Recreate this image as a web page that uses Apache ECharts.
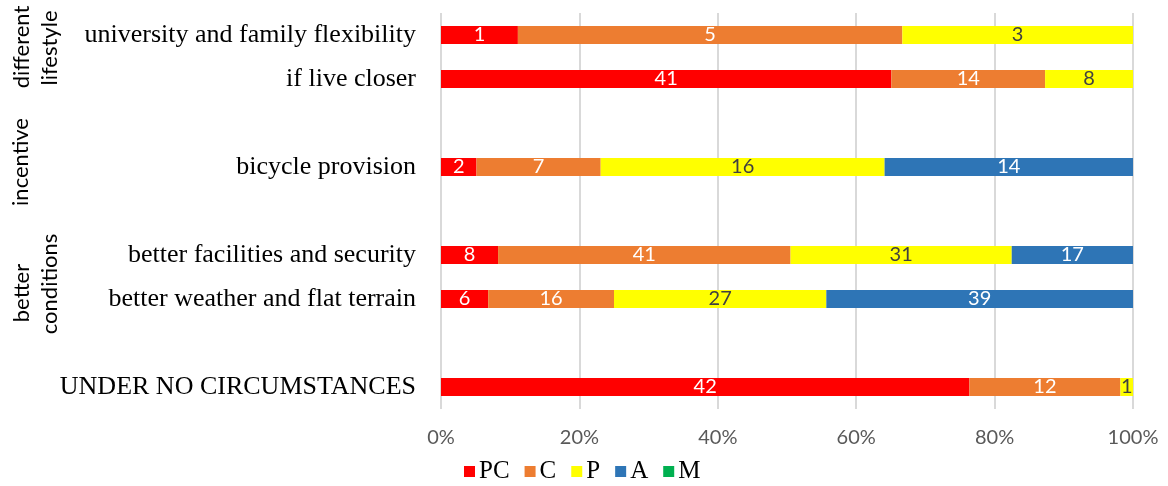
<!DOCTYPE html>
<html>
<head>
<meta charset="utf-8">
<script src="https://cdn.jsdelivr.net/npm/echarts@6/dist/echarts.min.js"></script>
<style>
  html, body { margin: 0; padding: 0; background: #fff; }
  #chart { width: 1168px; height: 486px; }
</style>
</head>
<body>
<div id="chart"></div>
<script>
// categories top to bottom, blanks are spacer rows
var categories = [
  'university and family flexibility',
  'if live closer',
  ' ',
  'bicycle provision',
  '  ',
  'better facilities and security',
  'better weather and flat terrain',
  '   ',
  'UNDER NO CIRCUMSTANCES'
];
var seriesNames = ['PC', 'C', 'P', 'A', 'M'];
var pc = [1, 41, null, 2, null, 8, 6, null, 42];
var c  = [5, 14, null, 7, null, 41, 16, null, 12];
var p  = [3, 8, null, 16, null, 31, 27, null, 1];
var a  = [null, null, null, 14, null, 17, 39, null, null];
var m  = [null, null, null, null, null, null, null, null, null];
var xTicks = [0, 20, 40, 60, 80, 100];

var counts = [pc, c, p, a, m];
var colors = ['#FF0000', '#ED7D31', '#FFFF00', '#2E75B6', '#00B050'];
var labelColors = ['#fff', '#fff', '#404040', '#fff', '#fff'];

var totals = categories.map(function (_, i) {
  return counts.reduce(function (s, arr) { return s + (arr[i] || 0); }, 0);
});

var series = seriesNames.map(function (name, si) {
  return {
    name: name,
    type: 'bar',
    stack: 'all',
    barWidth: 18,
    itemStyle: { color: colors[si] },
    label: {
      show: true,
      position: 'inside',
      color: labelColors[si],
      fontFamily: 'Lato',
      fontSize: 20,
      formatter: function (prm) {
        var v = counts[si][prm.dataIndex];
        return v ? String(v) : '';
      }
    },
    data: counts[si].map(function (v, i) {
      return v == null ? null : v / totals[i] * 100;
    })
  };
});

var chart = echarts.init(document.getElementById('chart'));

function groupText(txt, x, y) {
  return {
    type: 'text',
    x: x, y: y,
    rotation: Math.PI / 2,
    style: {
      text: txt,
      fill: '#000',
      font: '22px Lato',
      align: 'center',
      verticalAlign: 'middle'
    }
  };
}

chart.setOption({
  animation: false,
  grid: { left: 441, right: 35, top: 13, bottom: 77, containLabel: false },
  xAxis: {
    type: 'value',
    min: xTicks[0],
    max: xTicks[xTicks.length - 1],
    interval: 20,
    axisLine: { show: false },
    axisTick: { show: false },
    splitLine: { lineStyle: { color: '#d9d9d9', width: 2 } },
    axisLabel: {
      formatter: '{value}%',
      color: '#595959',
      fontFamily: 'Lato',
      fontSize: 20,
      margin: 19
    }
  },
  yAxis: {
    type: 'category',
    inverse: true,
    data: categories,
    axisLine: { show: false },
    axisTick: { show: false },
    splitLine: { show: false },
    axisLabel: {
      color: '#000',
      fontFamily: 'Liberation Serif',
      fontSize: 26,
      margin: 25
    }
  },
  legend: {
    data: seriesNames,
    left: 464,
    top: 459,
    padding: 0,
    icon: 'rect',
    itemWidth: 11,
    itemHeight: 11,
    itemGap: 15,
    textStyle: { fontFamily: 'Liberation Serif', fontSize: 25, color: '#000', padding: [0, 0, 0, -1] }
  },
  graphic: [
    groupText('different', 22, 47),
    groupText('lifestyle', 50, 48),
    groupText('incentive', 21, 162),
    groupText('better', 22, 293),
    groupText('conditions', 50, 284)
  ],
  series: series
});
</script>
</body>
</html>
